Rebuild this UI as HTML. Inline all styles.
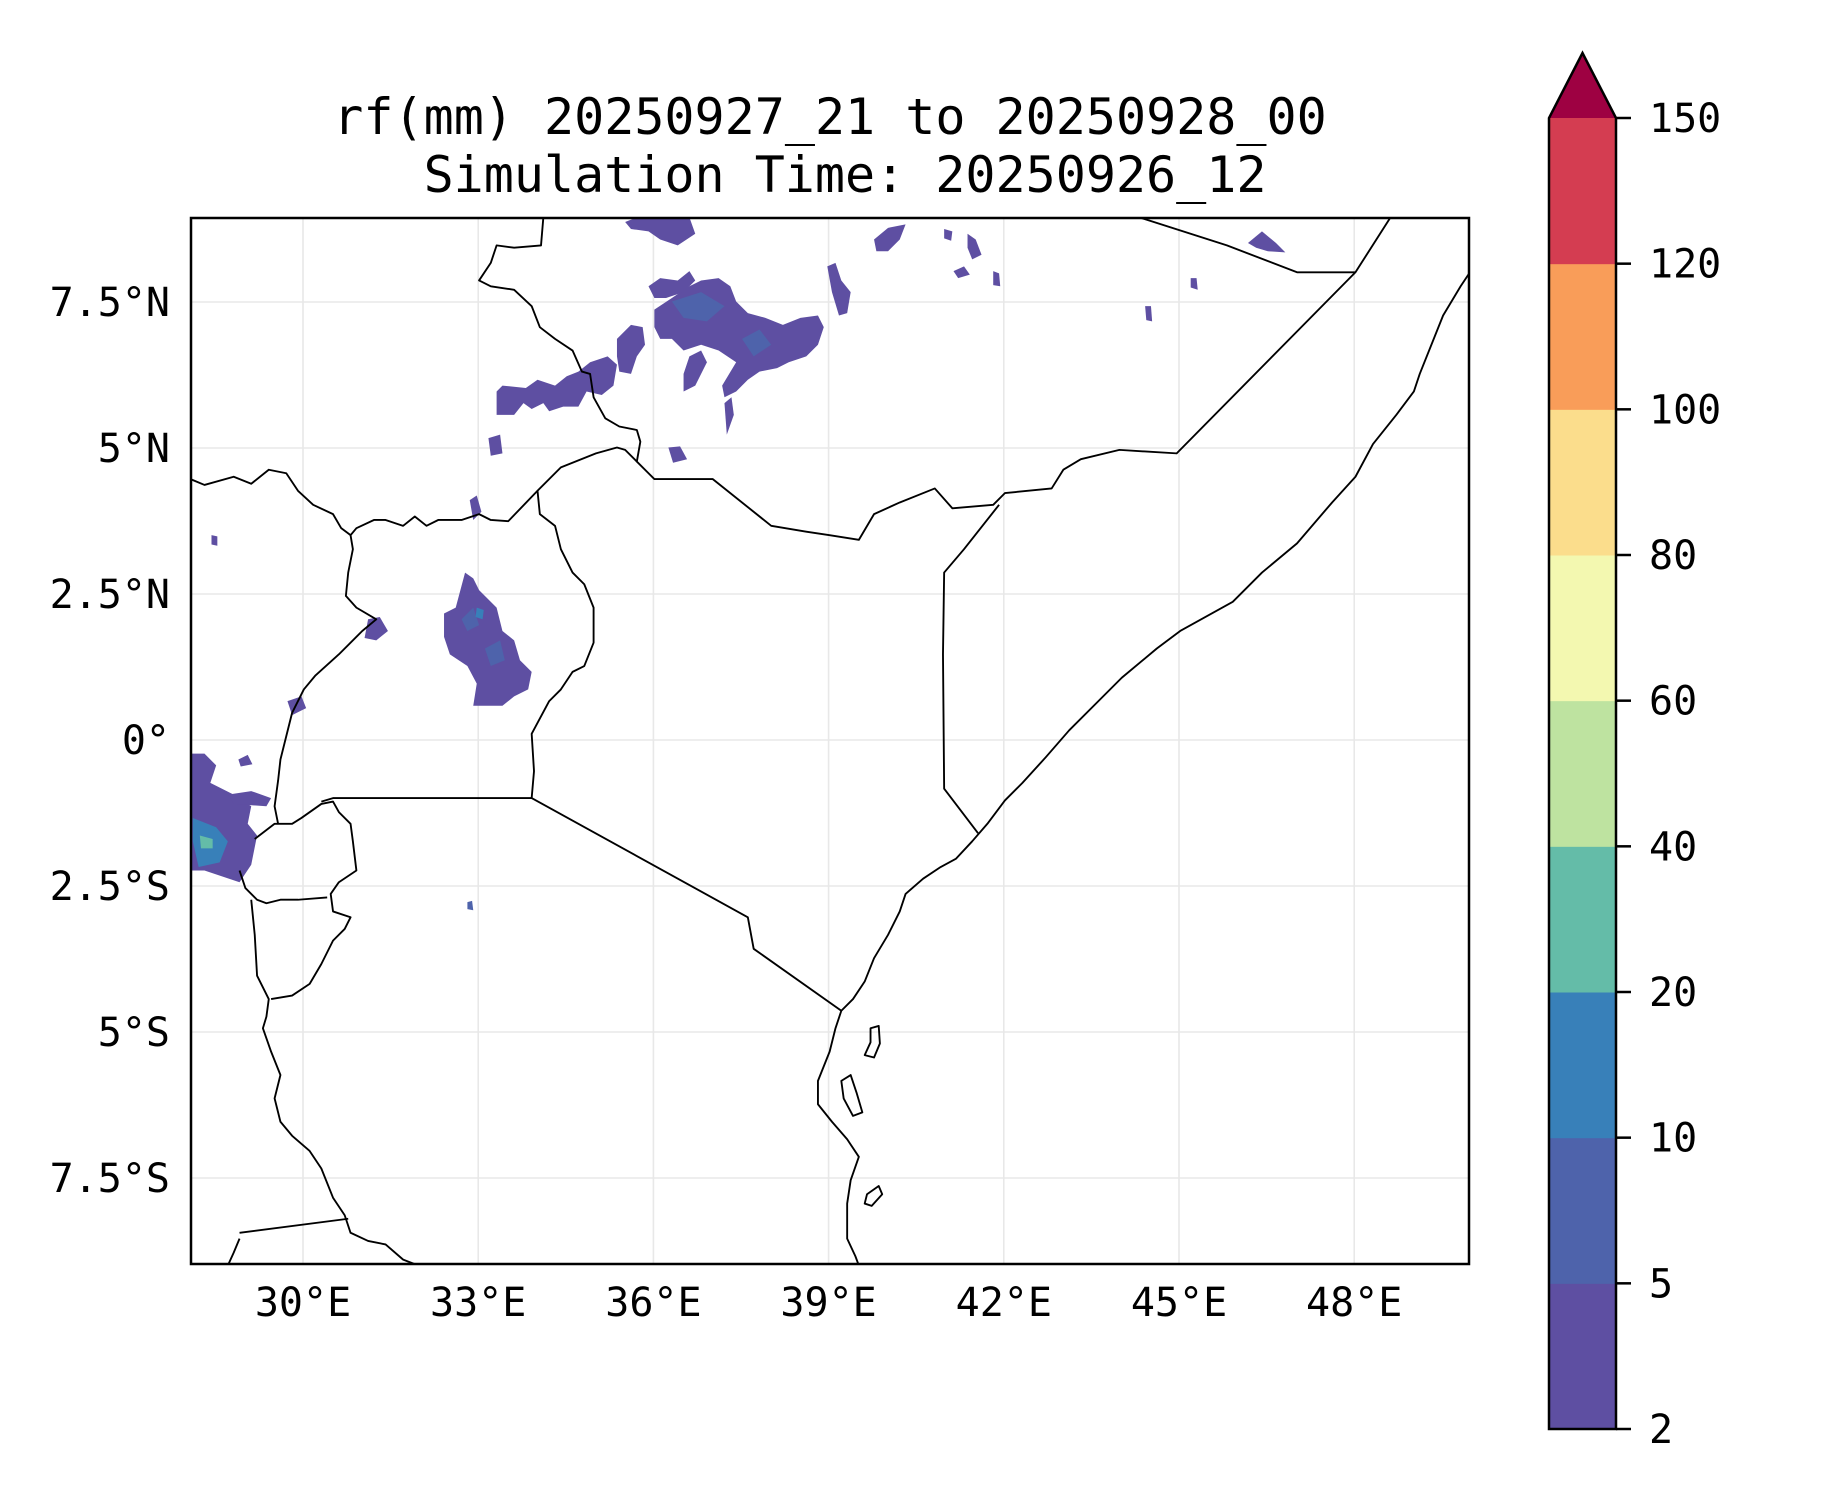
<!DOCTYPE html>
<html><head><meta charset="utf-8">
<style>
html,body{margin:0;padding:0;background:#fff;}
svg{display:block;font-family:"DejaVu Sans Mono","Liberation Mono",monospace;}
</style></head>
<body>
<svg id="chart" width="1833" height="1500" viewBox="0 0 1833 1500" xmlns="http://www.w3.org/2000/svg">
<defs><clipPath id="axclip"><rect x="191" y="218" width="1278" height="1046"/></clipPath></defs>
<text x="830" y="134" font-size="50" text-anchor="middle">rf(mm) 20250927_21 to 20250928_00</text>
<text x="845" y="192" font-size="50" text-anchor="middle">Simulation Time: 20250926_12</text>
<g id="grid"></g>
<g clip-path="url(#axclip)">
<g id="rain" transform="scale(1.1685)"></g>
<g transform="scale(1.1685)" fill="none" stroke="#000" stroke-width="1.6" stroke-linejoin="round">
<path d="M465,186 L463,210 440,212 425,210 420,225 410,240 420,245 440,248 455,262 462,280 475,290 490,300 498,318 505,320 508,340 518,358 530,365 545,368 548,378 545,395 555,405 560,410 610,410 660,450 690,455 710,458 735,462 748,440 770,430 800,418 815,435 850,432 860,422 900,418 910,402 925,393 958,385 1007,388 1160,233 1190,186"/>
<path d="M975,186 L1050,210 1110,233 1160,233"/>
<path d="M163,410 L175,415 200,408 215,414 230,402 245,405 255,420 268,432 285,440 292,452 300,458 305,452 320,445 330,445 345,450 355,442 365,450 375,445 395,445 410,440 420,445 435,446 460,420 480,400 510,388 528,383 535,385 545,395"/>
<path d="M460,420 L462,440 475,450 480,470 490,490 500,500 508,520 508,550 500,570 490,575 480,590 470,600 455,628 457,660 455,683"/>
<path d="M300,458 L302,470 298,490 296,510 305,520 322,530 310,540 290,560 270,578 260,590 250,610 245,630 240,650 238,668 235,690 238,705"/>
<path d="M275,686 L285,683 455,683 640,785 645,812 720,865"/>
<path d="M218,718 L235,705 250,705 258,700 275,688 285,686 290,695 300,705 302,720 305,745 290,755 283,765 285,780 300,785 295,795 285,805 275,825 265,842 250,852 232,855"/>
<path d="M205,745 L210,760 220,770 228,773 240,770 255,770 280,768"/>
<path d="M215,770 L218,800 220,835 230,855 228,870 225,880 232,900 240,920 235,940 240,960 250,972 265,985 275,1000 285,1025 295,1040 300,1055 315,1062 330,1065 345,1078 358,1083"/>
<path d="M205,1055 L298,1043 M205,1060 L200,1072 195,1083"/>
<path d="M1260,230 L1250,245 1235,270 1215,320 1210,335 1195,355 1175,380 1160,408 1140,430 1110,465 1080,490 1055,515 1010,540 990,555 960,580 940,600 915,625 895,648 875,670 860,685 845,705 832,720 818,735 805,742 790,752 775,765 770,780 760,800 748,820 740,840 730,855 720,865 715,880 710,900 700,925 700,945 712,960 725,975 735,990 728,1010 725,1030 725,1060 732,1075 735,1083"/>
<path d="M855,432 L825,470 808,490 807,560 808,675 837,713"/>
<path d="M745,880 L752,878 753,893 748,905 740,903 745,892Z"/>
<path d="M720,925 L728,920 733,935 738,952 730,955 722,940Z"/>
<path d="M742,1022 L752,1015 755,1022 746,1032 740,1030Z"/>
</g>
</g>
<rect x="191" y="218" width="1278" height="1046" fill="none" stroke="#000" stroke-width="2.5"/>
<g id="xticks"></g>
<g id="yticks"></g>
<g id="cbar"></g>
</svg>
<script>
const lonTicks=[30,33,36,39,42,45,48];
const lonLabels=["30°E","33°E","36°E","39°E","42°E","45°E","48°E"];
const latTicks=[7.5,5,2.5,0,-2.5,-5,-7.5];
const latLabels=["7.5°N","5°N","2.5°N","0°","2.5°S","5°S","7.5°S"];
const levels=[2,5,10,20,40,60,80,100,120,150];
const levelColors=["#5e4fa2","#4e63ab","#3880b9","#64bca8","#bee3a0","#f3f8b0","#fbdd8c","#f99d59","#d43d51"];
const extendColor="#9e0142";
const blobLevel=[0,0,0,0,0,0,0,0,0,0,0,0,0,0,0,0,0,0,0,0,0,0,0,0,0,0,1,1,1,1,1,2,2,3];
const blobShapes=[
"398,490 405,495 410,505 425,520 430,540 440,548 445,565 455,575 452,590 440,596 430,604 405,604 408,585 400,570 385,560 380,545 380,525 390,520",
"163,645 175,645 185,655 180,670 200,680 215,690 212,705 220,715 215,740 205,755 190,750 175,745 163,745",
"195,680 215,677 232,683 228,690 200,688",
"425,335 430,330 450,332 460,325 475,330 485,322 495,318 505,310 520,305 528,312 525,330 515,338 502,335 495,348 482,348 470,352 465,345 455,350 448,345 440,355 425,355",
"560,265 575,255 590,245 600,240 615,238 625,245 630,258 640,268 655,272 670,278 685,272 700,270 705,280 700,295 690,305 675,310 665,315 650,318 640,325 630,335 620,340 618,330 630,310 615,300 600,295 585,300 575,290 565,290 560,280",
"528,290 540,278 550,280 552,295 545,305 540,320 530,318 528,305",
"555,245 565,238 580,240 590,232 595,240 585,250 570,255 560,255",
"535,190 545,186 590,186 595,200 580,210 565,205 555,198 540,196",
"590,305 600,300 605,310 595,330 585,335 585,320",
"620,345 626,340 628,355 622,372",
"748,205 760,195 775,192 770,205 760,215 750,215",
"708,228 715,225 720,240 728,250 725,268 718,270 712,250",
"828,200 835,205 840,218 832,222 828,212",
"816,232 825,228 830,235 820,238",
"1068,208 1080,198 1092,208 1100,216 1085,215 1075,212",
"850,232 855,234 856,245 850,244",
"808,196 815,198 814,206 808,204",
"980,262 985,262 986,275 981,274",
"1019,238 1024,238 1025,248 1019,246",
"418,375 428,372 430,388 420,390",
"572,383 582,382 588,393 576,396",
"402,428 408,424 412,438 405,445",
"315,530 325,528 332,540 322,548 312,546",
"246,600 258,596 262,606 250,612",
"181,458 186,459 186,467 181,466",
"204,650 212,646 216,654 206,656",
"400,772 404,771 405,779 400,778",
"395,530 405,520 410,535 400,540",
"415,555 428,548 432,565 420,570",
"575,258 600,250 620,262 605,275 585,272",
"635,290 650,282 660,295 645,305",
"165,700 185,708 195,720 188,738 170,742 165,720",
"408,520 414,522 413,530 407,528",
"171,715 182,718 182,726 172,726"
];
const NS="http://www.w3.org/2000/svg";
const X0=191,X1=1469,Y0=218,Y1=1264;
function xScale(lon){return 303+(lon-30)*58.4;}
function yScale(lat){return 740-lat*58.4;}
const grid=document.getElementById('grid'),xt=document.getElementById('xticks'),yt=document.getElementById('yticks');
lonTicks.forEach((v,i)=>{
 const l=document.createElementNS(NS,'line');
 
 
 l.setAttribute('x1',xScale(v));l.setAttribute('x2',xScale(v));l.setAttribute('y1',Y0);l.setAttribute('y2',Y1);
 l.setAttribute('stroke','#e8e8e8');l.setAttribute('stroke-width','1.6');grid.appendChild(l);
 const t=document.createElementNS(NS,'text');
 
 
 t.setAttribute('x',xScale(v));t.setAttribute('y',1316);t.setAttribute('font-size','40');t.setAttribute('text-anchor','middle');
 t.textContent=lonLabels[i];xt.appendChild(t);
});
latTicks.forEach((v,i)=>{
 const l=document.createElementNS(NS,'line');
 
 
 l.setAttribute('x1',X0);l.setAttribute('x2',X1);l.setAttribute('y1',yScale(v));l.setAttribute('y2',yScale(v));
 l.setAttribute('stroke','#e8e8e8');l.setAttribute('stroke-width','1.6');grid.appendChild(l);
 const t=document.createElementNS(NS,'text');
 
 
 t.setAttribute('x',170);t.setAttribute('y',yScale(v)+14);t.setAttribute('font-size','40');t.setAttribute('text-anchor','end');
 t.textContent=latLabels[i];yt.appendChild(t);
});
const rain=document.getElementById('rain');
blobShapes.forEach((s,i)=>{
 const p=document.createElementNS(NS,'polygon');
 
 
 p.setAttribute('points',s);p.setAttribute('fill',levelColors[blobLevel[i]]);
 rain.appendChild(p);
});
const cb=document.getElementById('cbar');
const CL=1549,CR=1616,CT=118,CB=1429,seg=(CB-CT)/(levels.length-1);
function cbY(i){return CB-i*seg;}
for(let i=0;i<levels.length-1;i++){
 const r=document.createElementNS(NS,'rect');
 
 
 r.setAttribute('x',CL);r.setAttribute('y',cbY(i+1));r.setAttribute('width',CR-CL);r.setAttribute('height',seg+0.5);
 r.setAttribute('fill',levelColors[i]);cb.appendChild(r);
}
const tri=document.createElementNS(NS,'polygon');


tri.setAttribute('points',CL+','+CT+' '+((CL+CR)/2)+',53 '+CR+','+CT);tri.setAttribute('fill',extendColor);cb.appendChild(tri);
const out=document.createElementNS(NS,'polygon');


out.setAttribute('points',CL+','+CB+' '+CL+','+CT+' '+((CL+CR)/2)+',53 '+CR+','+CT+' '+CR+','+CB);
out.setAttribute('fill','none');out.setAttribute('stroke','#000');out.setAttribute('stroke-width','2.5');cb.appendChild(out);
levels.forEach((v,i)=>{
 const l=document.createElementNS(NS,'line');
 
 
 l.setAttribute('x1',CR);l.setAttribute('x2',CR+15);l.setAttribute('y1',cbY(i));l.setAttribute('y2',cbY(i));
 l.setAttribute('stroke','#000');l.setAttribute('stroke-width','2.5');cb.appendChild(l);
 const t=document.createElementNS(NS,'text');
 
 
 t.setAttribute('x',1649);t.setAttribute('y',cbY(i)+14);t.setAttribute('font-size','40');
 t.textContent=v;cb.appendChild(t);
});
</script>
</body></html>
